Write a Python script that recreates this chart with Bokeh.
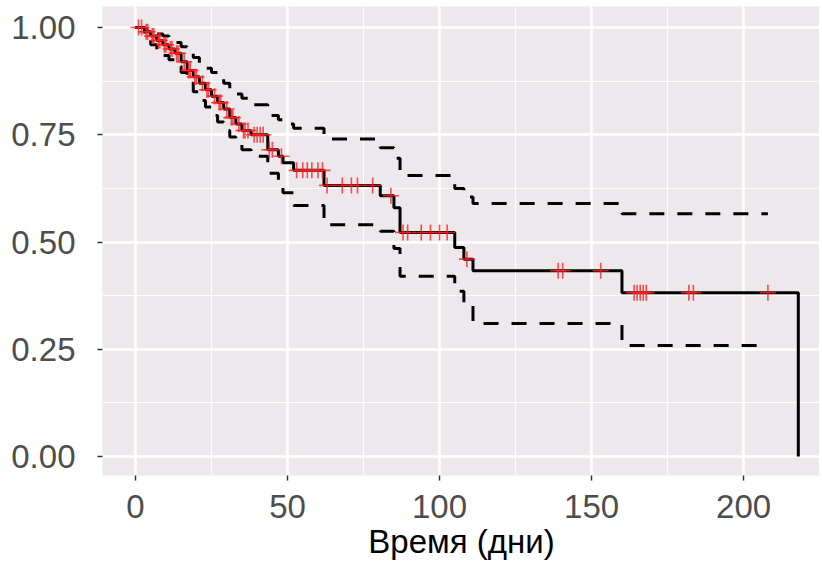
import numpy as np
from bokeh.plotting import figure
from bokeh.models import FixedTicker, NumeralTickFormatter, Range1d
from bokeh.embed import file_html
from bokeh.resources import INLINE

# Kaplan-Meier step curve (time in days, survival probability)
km_t = [0, 3, 5, 7, 9, 11, 13, 15, 17, 19, 21, 23, 25, 27, 29, 31, 33, 35, 38,
        43.5, 47, 48.5, 52, 62, 80.5, 85, 87, 105, 108, 111, 160, 218]
km_s = [1.0, 0.99, 0.98, 0.97, 0.96, 0.95, 0.94, 0.92, 0.90, 0.885, 0.87, 0.855,
        0.84, 0.825, 0.81, 0.79, 0.775, 0.76, 0.75, 0.715, 0.70, 0.685, 0.667,
        0.632, 0.608, 0.58, 0.522, 0.487, 0.46, 0.433, 0.382, 0.0]

# Confidence band (steps at the same times, ending at last censoring 208)
ci_t = [0, 3, 5, 7, 9, 11, 13, 15, 17, 19, 21, 23, 25, 27, 29, 31, 33, 35, 38,
        43.5, 47, 48.5, 52, 62, 80.5, 85, 87, 105, 108, 111, 160, 208]
ci_upper = [1.0, 0.995, 0.99, 0.985, 0.98, 0.975, 0.965, 0.955, 0.94, 0.93, 0.915,
            0.905, 0.895, 0.88, 0.87, 0.855, 0.845, 0.835, 0.82, 0.795, 0.785,
            0.775, 0.765, 0.74, 0.72, 0.695, 0.655, 0.625, 0.605, 0.59, 0.566, 0.566]
ci_lower = [1.0, 0.975, 0.96, 0.945, 0.935, 0.925, 0.91, 0.895, 0.87, 0.85, 0.83,
            0.815, 0.795, 0.78, 0.76, 0.745, 0.73, 0.715, 0.70, 0.66, 0.63, 0.615,
            0.585, 0.54, 0.525, 0.485, 0.42, 0.385, 0.355, 0.31, 0.259, 0.259]

# Censoring times
censor_t = [1, 2, 3.5, 4, 5.5, 6, 7.5, 8, 9.5, 10, 11.5, 12, 13.5, 14, 16, 17.5, 18,
            19.5, 20, 22, 23.5, 24, 26, 27.5, 28, 30, 31.5, 32, 34, 35.5, 36, 37,
            39, 40, 41, 42, 44, 45, 48, 53, 55, 56.5, 58, 60, 61.5, 63, 68, 71,
            73, 78, 84, 88, 89.5, 94, 97, 100, 102.5, 109, 139, 140.5, 153, 164,
            165, 166, 167, 168, 182, 183.5, 208]

x_ticks = [0, 50, 100, 150, 200]
x_minor = [25, 75, 125, 175, 225]
y_ticks = [0.0, 0.25, 0.5, 0.75, 1.0]
y_minor = [0.125, 0.375, 0.625, 0.875]
x_title = "Время (дни)"

idx = np.searchsorted(np.array(km_t), np.array(censor_t), side="right") - 1
censor_s = np.array(km_s)[idx]

p = figure(width=820, height=576, output_backend="svg", toolbar_location=None,
           x_range=Range1d(-10.86, 225.3), y_range=Range1d(-0.0443, 1.049),
           min_border_left=102, min_border_right=0, min_border_top=6,
           min_border_bottom=101)
p.background_fill_color = "#ECE8EC"
p.border_fill_color = "white"
p.outline_line_color = None

for ax in (p.xaxis[0], p.yaxis[0]):
    ax.axis_line_color = None
    ax.major_tick_line_color = "#333333"
    ax.major_tick_line_width = 1.5
    ax.major_tick_out = 5
    ax.major_tick_in = 0
    ax.minor_tick_line_color = None
    ax.major_label_text_font = "Liberation Sans"
    ax.major_label_text_font_size = "33px"
    ax.major_label_text_color = "#4D4D4D"

p.xaxis[0].ticker = FixedTicker(ticks=x_ticks, minor_ticks=x_minor)
p.yaxis[0].ticker = FixedTicker(ticks=y_ticks, minor_ticks=y_minor)
p.yaxis[0].formatter = NumeralTickFormatter(format="0.00")
p.xaxis[0].major_label_standoff = 14
p.yaxis[0].major_label_standoff = 22

p.xaxis[0].axis_label = x_title
p.xaxis[0].axis_label_text_font = "Liberation Sans"
p.xaxis[0].axis_label_text_font_size = "33px"
p.xaxis[0].axis_label_text_font_style = "normal"
p.xaxis[0].axis_label_text_color = "black"
p.xaxis[0].axis_label_standoff = 2

for g in (p.xgrid[0], p.ygrid[0]):
    g.grid_line_color = "white"
    g.grid_line_width = 2.5
    g.minor_grid_line_color = "white"
    g.minor_grid_line_width = 1.2

p.step(ci_t, ci_upper, mode="after", line_color="black", line_width=3, line_dash="15 13")
p.step(ci_t, ci_lower, mode="after", line_color="black", line_width=3, line_dash="15 13")
p.step(km_t, km_s, mode="after", line_color="black", line_width=3)
p.scatter(censor_t, censor_s, marker="cross", size=16, line_color="#FF2020",
          line_width=1.6, line_alpha=0.8)

open("out.html", "w").write(file_html(p, INLINE))
